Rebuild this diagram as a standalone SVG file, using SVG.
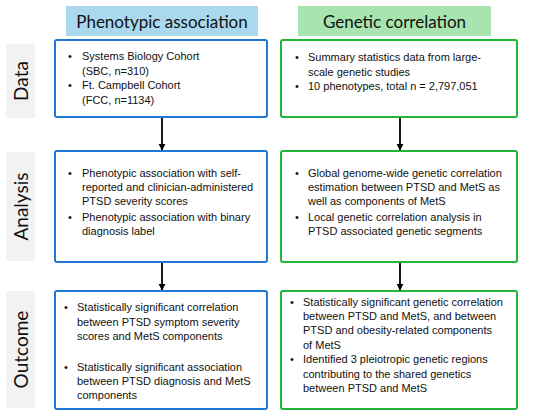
<svg xmlns="http://www.w3.org/2000/svg" width="550" height="418" viewBox="0 0 550 418">
<defs>
<style>
.hdr{font-family:Lato,"Open Sans",sans-serif;font-size:17px;fill:#111;text-anchor:middle}
.side{font-family:Lato,"Open Sans",sans-serif;font-size:19px;fill:#111;text-anchor:middle}
.t{font-family:"Liberation Sans",Arial,sans-serif;font-size:11px;fill:#111}
.bb{fill:#fff;stroke:#1f78d1;stroke-width:2}
.gb{fill:#fff;stroke:#22b53a;stroke-width:2}
.lab{fill:#f2f2f2}
.conn{stroke:#000;stroke-width:1.8;fill:none}
</style>
<marker id="ah" viewBox="0 0 10 10" refX="9" refY="5" markerWidth="4" markerHeight="4" orient="auto" markerUnits="strokeWidth">
<path d="M0,0 L10,5 L0,10 z" fill="#000"/>
</marker>
</defs>
<rect width="550" height="418" fill="#fff"/>
<g id="hdr-pheno"><rect x="66" y="6" width="192" height="30" fill="#a9d8ef"/><text class="hdr" x="162" y="27.5">Phenotypic association</text></g>
<g id="hdr-gen"><rect x="298" y="6" width="193" height="30" fill="#a8e4b0"/><text class="hdr" x="394.5" y="27.5">Genetic correlation</text></g>
<g id="lab-data"><rect class="lab" x="6" y="44" width="29" height="74"/><text class="side" transform="translate(28,81) rotate(-90)">Data</text></g>
<g id="lab-analysis"><rect class="lab" x="6" y="152" width="29" height="109"/><text class="side" transform="translate(28,206.5) rotate(-90)">Analysis</text></g>
<g id="lab-outcome"><rect class="lab" x="6" y="291" width="29" height="117"/><text class="side" transform="translate(28,349.5) rotate(-90)">Outcome</text></g>
<g id="connectors">
<line class="conn" x1="162" y1="117" x2="162" y2="150" marker-end="url(#ah)"/>
<line class="conn" x1="400" y1="117" x2="400" y2="150" marker-end="url(#ah)"/>
<line class="conn" x1="162" y1="262" x2="162" y2="290" marker-end="url(#ah)"/>
<line class="conn" x1="400" y1="262" x2="400" y2="290" marker-end="url(#ah)"/>
</g>
<g id="data-pheno"><rect class="bb" x="55" y="40" width="212" height="77" rx="2"/>
<text class="t"><tspan x="68" y="60">•</tspan><tspan x="82" y="60">Systems Biology Cohort</tspan><tspan x="82" y="74.5">(SBC, n=310)</tspan><tspan x="68" y="89">•</tspan><tspan x="82" y="89">Ft. Campbell Cohort</tspan><tspan x="82" y="103.5">(FCC, n=1134)</tspan></text></g>
<g id="data-gen"><rect class="gb" x="281" y="40" width="236" height="77" rx="2"/>
<text class="t"><tspan x="295" y="61">•</tspan><tspan x="308" y="61">Summary statistics data from large-</tspan><tspan x="308" y="75.5">scale genetic studies</tspan><tspan x="295" y="90">•</tspan><tspan x="308" y="90">10 phenotypes, total n = 2,797,051</tspan></text></g>
<g id="analysis-pheno"><rect class="bb" x="55" y="151" width="212" height="111" rx="2"/>
<text class="t"><tspan x="68" y="176.5">•</tspan><tspan x="82" y="176.5">Phenotypic association with self-</tspan><tspan x="82" y="190.5">reported and clinician-administered</tspan><tspan x="82" y="204.5">PTSD severity scores</tspan><tspan x="68" y="220.5">•</tspan><tspan x="82" y="220.5">Phenotypic association with binary</tspan><tspan x="82" y="234.5">diagnosis label</tspan></text></g>
<g id="analysis-gen"><rect class="gb" x="281" y="151" width="236" height="111" rx="2"/>
<text class="t"><tspan x="295" y="176.5">•</tspan><tspan x="308" y="176.5">Global genome-wide genetic correlation</tspan><tspan x="308" y="190.5">estimation between PTSD and MetS as</tspan><tspan x="308" y="204.5">well as components of MetS</tspan><tspan x="295" y="220.5">•</tspan><tspan x="308" y="220.5">Local genetic correlation analysis in</tspan><tspan x="308" y="234.5">PTSD associated genetic segments</tspan></text></g>
<g id="outcome-pheno"><rect class="bb" x="55" y="291" width="212" height="118" rx="2"/>
<text class="t"><tspan x="64" y="311">•</tspan><tspan x="77" y="311">Statistically significant correlation</tspan><tspan x="77" y="325.5">between PTSD symptom severity</tspan><tspan x="77" y="340">scores and MetS components</tspan><tspan x="64" y="370.5">•</tspan><tspan x="77" y="370.5">Statistically significant association</tspan><tspan x="77" y="385">between PTSD diagnosis and MetS</tspan><tspan x="77" y="399">components</tspan></text></g>
<g id="outcome-gen"><rect class="gb" x="281" y="291" width="236" height="118" rx="2"/>
<text class="t"><tspan x="290" y="305.5">•</tspan><tspan x="303" y="305.5">Statistically significant genetic correlation</tspan><tspan x="303" y="320">between PTSD and MetS, and between</tspan><tspan x="303" y="334">PTSD and obesity-related components</tspan><tspan x="303" y="349">of MetS</tspan><tspan x="290" y="363">•</tspan><tspan x="303" y="363">Identified 3 pleiotropic genetic regions</tspan><tspan x="303" y="377.5">contributing to the shared genetics</tspan><tspan x="303" y="392">between PTSD and MetS</tspan></text></g>
</svg>
